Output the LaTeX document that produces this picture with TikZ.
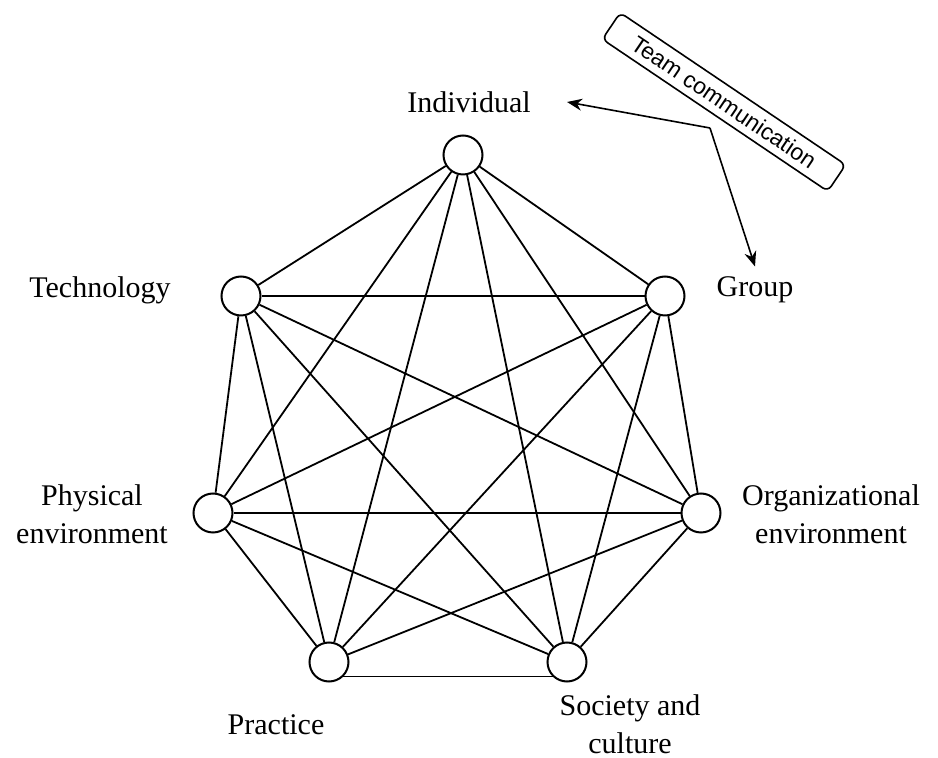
\documentclass[tikz,border=0pt]{standalone}
\usepackage{fontspec}
\setmainfont{Liberation Serif}
\newfontfamily\boxfont{Liberation Sans}
\usetikzlibrary{arrows.meta}

\begin{document}
\begin{tikzpicture}[x=0.5pt, y=-0.5pt,
  % Node Styles
  factor/.style={circle, draw, line width=1pt, minimum size=19.5pt, inner sep=0pt, fill=white},
  flabel/.style={align=center, inner sep=0pt, font=\fontsize{15}{19}\selectfont},
  commbox/.style={rectangle, rounded corners=3pt, draw, line width=0.8pt, rotate=-34, minimum width=136pt, minimum height=16pt, inner sep=0pt, font=\boxfont\fontsize{11.5}{13}\selectfont},
  % Arrow Styles
  link/.style={line width=0.9pt},
  commarrow/.style={-{Stealth[length=7.5pt, width=6pt]}, line width=0.8pt}
]
\useasboundingbox (0,0) rectangle (938,758);

\node[factor] (ind) at (463,155) {};
\node[factor] (grp) at (665,296) {};
\node[factor] (org) at (701,513) {};
\node[factor] (soc) at (567,662) {};
\node[factor] (prac) at (329,662) {};
\node[factor] (phys) at (213,513) {};
\node[factor] (tech) at (241,296) {};

\node[flabel] (indlbl) at (469,102) {Individual};
\node[flabel] (grplbl) at (755,290) {Group};
\node[flabel] (orglbl) at (831,514) {Organizational\\environment};
\node[flabel] (soclbl) at (630,724) {Society and\\culture};
\node[flabel] (praclbl) at (276,725) {Practice};
\node[flabel] (physlbl) at (92,514) {Physical\\environment};
\node[flabel] (techlbl) at (100,290) {Technology};

% Links between all factors
\foreach \a/\b in {ind/grp, ind/org, ind/soc, ind/prac, ind/phys, ind/tech,
                   grp/org, grp/soc, grp/prac, grp/phys, grp/tech,
                   org/soc, org/prac, org/phys, org/tech,
                   soc/phys, soc/tech,
                   prac/phys, prac/tech,
                   phys/tech}
  \draw[link] (\a) -- (\b);
\draw[link] (prac.-45) -- (soc.-135);

% Team communication
\node[commbox] (comm) at (724,102) {Team communication};
\coordinate (split) at (710,128);
\draw[commarrow] (split) -- ([xshift=18pt]indlbl.east);
\draw[commarrow] (split) -- ([yshift=5pt]grplbl.north);

\end{tikzpicture}
\end{document}
